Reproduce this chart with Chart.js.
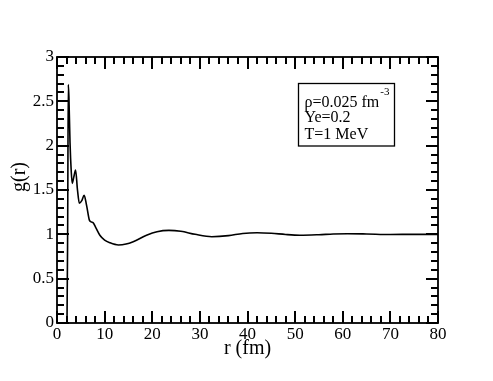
<!DOCTYPE html>
<html>
<head>
<meta charset="utf-8">
<script src="https://cdn.jsdelivr.net/npm/chart.js@4.4.1/dist/chart.umd.min.js"></script>
<style>
  html, body { margin: 0; padding: 0; background: #fff; }
  #wrap { width: 493px; height: 381px; }
</style>
</head>
<body>
<div id="wrap"><canvas id="c" width="493" height="381"></canvas></div>
<script>
// Data
const rValues = [0, 2.1, 2.25, 2.37, 2.5, 2.73, 3.0, 3.2, 3.5, 3.9, 4.3, 4.7, 5.2, 5.7, 6.2, 6.8, 7.2, 7.6, 8.2, 9.0, 10.0, 11.1, 12.9, 14.5, 16.0, 18.8, 21.0, 23.5, 26.0, 29.0, 32.5, 36.0, 39.0, 42.0, 45.0, 48.0, 51.0, 55.0, 58.0, 61.0, 65.0, 70.0, 75.0, 80.0];
const gValues = [0, 0, 1.2, 2.69, 2.55, 2.04, 1.70, 1.575, 1.64, 1.725, 1.50, 1.35, 1.38, 1.44, 1.33, 1.16, 1.14, 1.13, 1.07, 0.99, 0.935, 0.905, 0.88, 0.89, 0.917, 0.99, 1.03, 1.045, 1.035, 1.0, 0.973, 0.985, 1.01, 1.018, 1.012, 0.998, 0.99, 0.996, 1.004, 1.007, 1.004, 0.998, 1.0, 1.0];
const xTicks = [0, 10, 20, 30, 40, 50, 60, 70, 80];
const yTicks = [0, 0.5, 1, 1.5, 2, 2.5, 3];
const xMinorStep = 2;
const yMinorStep = 0.1;
const yTitle = "g(r)";
const annotationLines = ["ρ=0.025 fm", "Ye=0.2", "T=1 MeV"];
const annotationSup = "-3";

const FONT = "'Liberation Serif', 'Times New Roman', serif";

const points = rValues.map((r, i) => ({x: r, y: gValues[i]}));

const frameTicks = {
  id: 'frameTicks',
  afterDraw(chart) {
    const ctx = chart.ctx;
    const a = chart.chartArea;
    const xs = chart.scales.x, ys = chart.scales.y;
    ctx.save();
    ctx.strokeStyle = '#000';
    ctx.lineWidth = 2;
    const majorLen = 12, minorLen = 7;
    const nx = Math.round((xs.max - xs.min) / xMinorStep);
    ctx.beginPath();
    for (let k = 0; k <= nx; k++) {
      const v = xs.min + k * xMinorStep;
      const px = Math.round(xs.getPixelForValue(v));
      const major = xTicks.some(t => Math.abs(t - v) < 1e-6);
      const len = major ? majorLen : minorLen;
      ctx.moveTo(px, a.bottom); ctx.lineTo(px, a.bottom - len);
      ctx.moveTo(px, a.top); ctx.lineTo(px, a.top + len);
    }
    const ny = Math.round((ys.max - ys.min) / yMinorStep);
    for (let k = 0; k <= ny; k++) {
      const v = ys.min + k * yMinorStep;
      const py = Math.round(ys.getPixelForValue(v));
      const major = yTicks.some(t => Math.abs(t - v) < 1e-6);
      const len = major ? majorLen : minorLen;
      ctx.moveTo(a.left, py); ctx.lineTo(a.left + len, py);
      ctx.moveTo(a.right, py); ctx.lineTo(a.right - len, py);
    }
    ctx.stroke();
    ctx.lineWidth = 1.8;
    ctx.strokeRect(a.left, a.top, a.right - a.left, a.bottom - a.top);

    // y axis title
    ctx.fillStyle = '#000';
    ctx.font = "20px " + FONT;
    ctx.textAlign = 'center';
    ctx.textBaseline = 'middle';
    ctx.save();
    ctx.translate(20, (a.top + a.bottom) / 2 - 13);
    ctx.rotate(-Math.PI / 2);
    ctx.fillText(yTitle, 0, 0);
    ctx.restore();

    // annotation box
    const bx = Math.round(xs.getPixelForValue(50.5)) + 0.5;
    const by = 83.5;
    const bw = 96, bh = 62.5;
    ctx.lineWidth = 1.3;
    ctx.strokeRect(bx, by, bw, bh);
    ctx.font = "16px " + FONT;
    ctx.textBaseline = 'alphabetic';
    ctx.textAlign = 'left';
    const tx = bx + 6;
    const baselines = [107, 122, 139];
    annotationLines.forEach((t, i) => ctx.fillText(t, tx, baselines[i]));
    const w = ctx.measureText(annotationLines[0]).width;
    ctx.font = "11px " + FONT;
    ctx.fillText(annotationSup, tx + w + 1, 95);
    ctx.restore();
  }
};

new Chart(document.getElementById('c'), {
  type: 'line',
  data: {
    datasets: [{
      data: points,
      borderColor: '#000',
      borderWidth: 1.6,
      pointRadius: 0,
      fill: false,
      cubicInterpolationMode: 'monotone'
    }]
  },
  options: {
    responsive: false,
    animation: false,
    devicePixelRatio: 1,
    layout: { padding: { top: 57, right: 55, left: 0, bottom: 0 } },
    plugins: { legend: { display: false }, tooltip: { enabled: false } },
    scales: {
      x: {
        type: 'linear', min: 0, max: 80,
        afterBuildTicks(s) { s.ticks = xTicks.map(v => ({value: v})); },
        afterFit(s) { s.height = 58; },
        grid: { display: false, drawTicks: false },
        border: { display: false },
        ticks: { color: '#000', font: { family: FONT, size: 17 }, padding: 1, maxRotation: 0, autoSkip: false, callback: v => String(v) },
        title: { display: true, text: 'r (fm)', color: '#000', font: { family: FONT, size: 20 }, padding: { top: 0, bottom: 20 } }
      },
      y: {
        type: 'linear', min: 0, max: 3,
        afterBuildTicks(s) { s.ticks = yTicks.map(v => ({value: v})); },
        afterFit(s) { s.width = 57; },
        grid: { display: false, drawTicks: false },
        border: { display: false },
        ticks: { color: '#000', font: { family: FONT, size: 17 }, padding: 3, autoSkip: false, callback: v => String(v) }
      }
    }
  },
  plugins: [frameTicks]
});
</script>
</body>
</html>
